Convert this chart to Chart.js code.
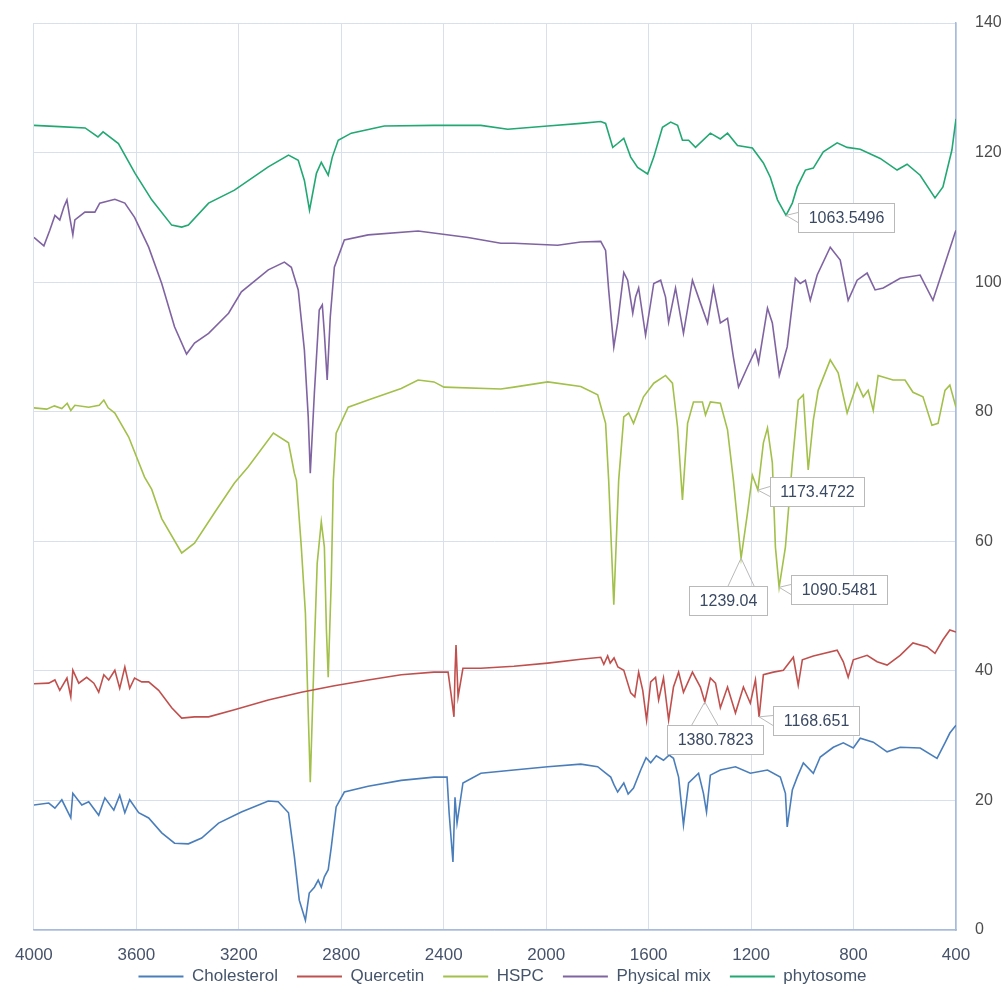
<!DOCTYPE html>
<html>
<head>
<meta charset="utf-8">
<title>FTIR spectra</title>
<script src="https://cdn.jsdelivr.net/npm/chart.js@4/dist/chart.umd.min.js"></script>
<style>
  html, body { margin: 0; padding: 0; background: #ffffff; }
</style>
</head>
<body>
<canvas id="canvas" width="1005" height="994"></canvas>
<script>
// wavenumber (cm-1) and %T
const seriesNames = ['Cholesterol', 'Quercetin', 'HSPC', 'Physical mix', 'phytosome'];
const seriesColors = ['#4a7ebb', '#c0504d', '#a2c04a', '#8064a2', '#22a873'];

const cholWn = [4000, 3942, 3918, 3891, 3856, 3848, 3813, 3786, 3747, 3723, 3688, 3665, 3645, 3626, 3591, 3552, 3501, 3451, 3397, 3345, 3279, 3190, 3085, 3046, 3006, 2983, 2964, 2940, 2925, 2905, 2890, 2878, 2866, 2851, 2839, 2820, 2788, 2695, 2566, 2438, 2387, 2379, 2364, 2356, 2348, 2325, 2255, 2126, 1994, 1865, 1799, 1770, 1748, 1735, 1721, 1697, 1680, 1659, 1631, 1610, 1592, 1570, 1542, 1520, 1503, 1483, 1464, 1444, 1405, 1386, 1374, 1359, 1320, 1261, 1203, 1136, 1086, 1066, 1059, 1039, 1020, 996, 957, 930, 879, 840, 801, 774, 723, 669, 618, 540, 474, 443, 424, 400];
const cholT  = [19.3, 19.6, 18.8, 20.1, 17.3, 21.1, 19.3, 19.8, 17.7, 20.4, 18.5, 20.8, 18.1, 20.1, 18.1, 17.3, 15.0, 13.4, 13.3, 14.2, 16.5, 18.2, 19.9, 19.8, 18.1, 11.3, 4.6, 1.5, 5.7, 6.6, 7.7, 6.6, 8.2, 9.3, 12.8, 19.0, 21.3, 22.2, 23.1, 23.6, 23.6, 18.1, 10.5, 20.5, 16.5, 22.7, 24.2, 24.7, 25.2, 25.6, 25.2, 24.3, 23.6, 22.4, 21.3, 22.7, 21.0, 21.9, 24.7, 26.6, 25.8, 26.9, 26.2, 27.0, 26.5, 23.6, 16.2, 22.7, 24.2, 21.1, 18.2, 23.9, 24.7, 25.2, 24.2, 24.7, 23.6, 21.1, 15.9, 21.6, 23.6, 25.8, 24.2, 26.7, 28.2, 28.9, 28.1, 29.6, 29.0, 27.5, 28.2, 28.1, 26.5, 28.9, 30.4, 31.6];

const querWn = [4000, 3942, 3918, 3899, 3871, 3856, 3848, 3825, 3794, 3766, 3747, 3727, 3708, 3684, 3665, 3645, 3626, 3607, 3579, 3552, 3513, 3462, 3423, 3373, 3318, 3217, 3085, 2956, 2827, 2695, 2566, 2438, 2383, 2372, 2360, 2356, 2352, 2344, 2325, 2255, 2126, 1994, 1865, 1787, 1775, 1760, 1750, 1735, 1720, 1697, 1670, 1654, 1639, 1623, 1608, 1592, 1573, 1561, 1542, 1522, 1503, 1483, 1464, 1429, 1398, 1380.7823, 1359, 1339, 1320, 1292, 1261, 1230, 1203, 1183, 1168.651, 1152, 1113, 1074, 1035, 1016, 1000, 957, 864, 840, 821, 801, 747, 708, 669, 618, 568, 513, 482, 451, 424, 400];
const querT  = [38.0, 38.1, 38.6, 37.0, 38.9, 36.0, 40.1, 38.1, 39.0, 38.1, 36.7, 39.4, 38.6, 40.1, 37.3, 40.6, 37.3, 38.9, 38.3, 38.3, 37.0, 34.3, 32.7, 32.9, 32.9, 34.0, 35.5, 36.7, 37.7, 38.6, 39.4, 39.8, 39.8, 36.6, 32.9, 39.7, 44.0, 36.0, 40.4, 40.4, 40.7, 41.2, 41.8, 42.1, 41.0, 42.3, 41.2, 42.0, 40.6, 40.1, 36.6, 36.0, 39.8, 37.0, 32.4, 38.3, 39.0, 35.5, 38.9, 32.4, 37.5, 39.8, 36.7, 39.8, 37.5, 35.2, 38.9, 38.1, 34.3, 37.5, 33.5, 37.5, 35.0, 38.6, 32.9, 39.4, 39.8, 40.1, 42.1, 37.8, 41.7, 42.3, 43.2, 41.4, 39.0, 41.7, 42.4, 41.4, 40.9, 42.4, 44.3, 43.7, 42.7, 44.8, 46.3, 46.0];

const hspcWn = [4000, 3950, 3920, 3891, 3870, 3856, 3840, 3786, 3745, 3727, 3710, 3684, 3630, 3568, 3540, 3501, 3423, 3373, 3295, 3217, 3163, 3065, 3006, 2983, 2975, 2956, 2940, 2929, 2921, 2905, 2894, 2878, 2866, 2858, 2851, 2839, 2831, 2820, 2773, 2695, 2566, 2500, 2438, 2399, 2177, 2126, 1994, 1865, 1799, 1768, 1756, 1736, 1717, 1697, 1678, 1659, 1620, 1580, 1534, 1507, 1487, 1468, 1448, 1425, 1390, 1378, 1359, 1320, 1292, 1269, 1239.04, 1214, 1195, 1173.4722, 1152, 1136, 1117, 1105, 1090.5481, 1066, 1039, 1016, 996, 977, 957, 938, 891, 860, 825, 786, 762, 743, 723, 704, 646, 599, 568, 529, 494, 470, 443, 424, 400];
const hspcT  = [80.6, 80.4, 80.9, 80.5, 81.3, 80.2, 81.0, 80.7, 81.0, 81.8, 80.6, 79.8, 76.1, 69.9, 68.0, 63.5, 58.2, 59.7, 64.4, 69.0, 71.5, 76.7, 75.2, 70.5, 69.4, 59.1, 48.9, 33.5, 22.8, 43.7, 56.6, 63.0, 59.1, 46.3, 39.0, 54.0, 69.4, 76.7, 80.7, 81.8, 83.6, 84.9, 84.6, 83.8, 83.5, 83.8, 84.6, 83.9, 82.6, 78.2, 69.4, 50.2, 69.4, 79.2, 79.8, 78.2, 82.3, 84.4, 85.6, 84.4, 77.6, 66.4, 78.2, 81.5, 81.5, 79.5, 81.5, 81.3, 77.2, 69.4, 57.4, 64.4, 70.2, 67.9, 75.2, 77.5, 72.1, 59.1, 52.9, 59.1, 72.1, 81.8, 82.6, 71.0, 78.7, 83.3, 88.0, 86.0, 79.8, 84.4, 82.3, 83.3, 80.2, 85.6, 84.9, 84.9, 83.0, 82.3, 77.9, 78.2, 83.3, 84.1, 80.7];

const mixWn = [4000, 3961, 3938, 3918, 3899, 3883, 3871, 3860, 3848, 3840, 3801, 3762, 3743, 3684, 3645, 3607, 3552, 3501, 3451, 3404, 3373, 3318, 3240, 3190, 3085, 3022, 2995, 2968, 2944, 2929, 2921, 2905, 2886, 2874, 2866, 2855, 2843, 2827, 2788, 2695, 2500, 2305, 2177, 2126, 1955, 1865, 1787, 1768, 1756, 1736, 1721, 1697, 1682, 1662, 1651, 1639, 1612, 1580, 1553, 1534, 1522, 1495, 1464, 1429, 1398, 1370, 1347, 1320, 1292, 1269, 1249, 1214, 1183, 1171, 1136, 1117, 1090, 1059, 1027, 1008, 988, 969, 942, 891, 852, 821, 786, 747, 716, 684, 618, 540, 490, 451, 404, 400];
const mixT  = [106.9, 105.6, 108.0, 110.3, 109.6, 111.6, 112.7, 110.0, 107.3, 109.6, 110.8, 110.8, 112.2, 112.8, 112.2, 110.0, 105.4, 99.8, 93.1, 88.9, 90.6, 92.1, 95.2, 98.5, 101.9, 103.1, 102.3, 98.8, 89.5, 79.2, 70.5, 82.9, 95.7, 96.5, 92.1, 84.9, 94.6, 102.3, 106.5, 107.3, 107.9, 106.9, 106.0, 106.0, 105.7, 106.2, 106.3, 104.9, 98.8, 90.0, 93.7, 101.5, 100.3, 95.2, 97.7, 99.1, 91.8, 99.8, 100.3, 97.7, 93.8, 99.1, 92.1, 100.3, 96.8, 93.7, 99.2, 93.7, 94.4, 88.4, 83.8, 86.9, 89.5, 87.5, 96.0, 93.7, 85.6, 90.0, 100.6, 99.8, 100.3, 97.2, 101.1, 105.4, 103.4, 97.2, 100.3, 101.4, 98.8, 99.1, 100.6, 101.1, 97.2, 101.9, 107.6, 108.0];

const phytoWn = [4000, 3900, 3800, 3750, 3730, 3670, 3605, 3540, 3462, 3423, 3397, 3318, 3217, 3085, 3006, 2968, 2944, 2924, 2897, 2878, 2851, 2835, 2812, 2761, 2632, 2438, 2255, 2150, 1994, 1865, 1787, 1768, 1740, 1721, 1697, 1670, 1643, 1604, 1580, 1546, 1514, 1487, 1468, 1444, 1417, 1359, 1320, 1292, 1253, 1195, 1152, 1125, 1097, 1063.5496, 1039, 1020, 988, 957, 918, 864, 825, 774, 696, 630, 591, 540, 482, 451, 416, 400];
const phytoT  = [124.2, 124.0, 123.8, 122.4, 123.2, 121.4, 116.8, 112.7, 108.8, 108.5, 108.8, 112.2, 114.2, 117.8, 119.6, 118.8, 115.7, 111.1, 116.8, 118.5, 116.5, 119.3, 121.9, 123.0, 124.1, 124.2, 124.2, 123.6, 124.1, 124.5, 124.8, 124.5, 120.8, 121.4, 122.2, 119.3, 117.7, 116.7, 119.3, 123.9, 124.7, 124.2, 121.9, 121.9, 120.8, 123.0, 122.1, 123.0, 121.1, 120.7, 118.4, 116.2, 112.7, 110.3, 112.2, 114.7, 117.3, 117.6, 120.1, 121.5, 120.8, 120.5, 119.1, 117.3, 118.2, 116.5, 113.0, 114.7, 120.4, 125.2];

const xTicks = [4000, 3600, 3200, 2800, 2400, 2000, 1600, 1200, 800, 400];
const yTicks = [0, 20, 40, 60, 80, 100, 120, 140];

const seriesWn = [cholWn, querWn, hspcWn, mixWn, phytoWn];
const seriesT = [cholT, querT, hspcT, mixT, phytoT];

// peak labels: which series, which wavenumber, where the box goes
const callouts = [
  { series: 4, wn: 1063.5496, side: 'right', dx: 12, dy: 2 },
  { series: 2, wn: 1173.4722, side: 'right', dx: 12, dy: 1 },
  { series: 2, wn: 1239.04, side: 'below', dx: -13, dy: 28 },
  { series: 2, wn: 1090.5481, side: 'right', dx: 12, dy: 2 },
  { series: 1, wn: 1380.7823, side: 'below', dx: 10, dy: 23 },
  { series: 1, wn: 1168.651, side: 'right', dx: 14, dy: 4 }
];

const calloutPlugin = {
  id: 'callouts',
  afterDatasetsDraw(chart) {
    const ctx = chart.ctx;
    ctx.save();
    ctx.font = '16px "Liberation Sans", Arial, sans-serif';
    callouts.forEach(function(c) {
      const i = seriesWn[c.series].indexOf(c.wn);
      const px = chart.scales.x.getPixelForValue(c.wn);
      const py = chart.scales.y.getPixelForValue(seriesT[c.series][i]);
      const text = String(c.wn);
      const w = Math.round(ctx.measureText(text).width + 20);
      const h = 29;
      let bx, by, a, b;
      if (c.side === 'right') {
        bx = Math.round(px + c.dx);
        by = Math.round(py + c.dy - h / 2);
        a = [bx, by + h / 2 - 5];
        b = [bx, by + h / 2 + 5];
      } else {
        bx = Math.round(px + c.dx - w / 2);
        by = Math.round(py + c.dy);
        a = [px - 13, by];
        b = [px + 13, by];
      }
      ctx.strokeStyle = '#b9b9b9';
      ctx.lineWidth = 1;
      ctx.beginPath();
      ctx.moveTo(a[0], a[1]);
      ctx.lineTo(px, py);
      ctx.lineTo(b[0], b[1]);
      ctx.stroke();
      ctx.fillStyle = '#ffffff';
      ctx.fillRect(bx, by, w, h);
      ctx.strokeRect(bx + 0.5, by + 0.5, w, h);
      ctx.fillStyle = '#3b4a63';
      ctx.textAlign = 'center';
      ctx.textBaseline = 'middle';
      ctx.fillText(text, bx + w / 2 + 0.5, by + h / 2 + 1);
    });
    ctx.restore();
  }
};

// legend sits right under the tick labels and is centred on the whole canvas
const legendPlace = {
  id: 'legendPlace',
  afterLayout(chart) {
    const l = chart.legend;
    l.left = 0;
    l.right = chart.width;
    l.width = chart.width;
    l.top = 949;
    l.bottom = chart.height;
    l.height = chart.height - 949;
  }
};

const datasets = seriesNames.map(function(name, k) {
  return {
    label: name,
    data: seriesWn[k].map(function(wn, i) { return { x: wn, y: seriesT[k][i] }; }),
    borderColor: seriesColors[k],
    backgroundColor: seriesColors[k],
    borderWidth: 1.6,
    pointRadius: 0,
    tension: 0
  };
});

const ctx = document.getElementById('canvas');

new Chart(ctx, {
  type: 'line',
  data: { datasets: datasets },
  plugins: [calloutPlugin, legendPlace],
  options: {
    responsive: false,
    animation: false,
    layout: { padding: { left: 32, top: 23, right: 0, bottom: 0 } },
    plugins: {
      tooltip: { enabled: false },
      legend: {
        position: 'bottom',
        maxHeight: 30,
        labels: {
          boxWidth: 45,
          boxHeight: 2,
          padding: 19,
          color: '#44546a',
          font: { family: '"Liberation Sans", Arial, sans-serif', size: 17 },
          generateLabels: function(chart) {
            return Chart.defaults.plugins.legend.labels.generateLabels(chart).map(function(l) {
              l.lineWidth = 0;
              return l;
            });
          }
        }
      }
    },
    scales: {
      x: {
        type: 'linear',
        reverse: true,
        min: 400,
        max: 4000,
        afterBuildTicks: function(scale) { scale.ticks = xTicks.map(function(v) { return { value: v }; }); },
        ticks: {
          padding: 15,
          maxRotation: 0,
          autoSkip: false,
          color: '#46536a',
          font: { family: '"Liberation Sans", Arial, sans-serif', size: 17 },
          callback: function(v) { return v; }
        },
        grid: { color: '#d8e0ee', lineWidth: 1, drawTicks: false },
        border: { color: '#a7bbdb', width: 1.5 },
        afterFit: function(scale) { scale.height = 34; }
      },
      y: {
        position: 'right',
        min: 0,
        max: 140,
        afterBuildTicks: function(scale) { scale.ticks = yTicks.map(function(v) { return { value: v }; }); },
        ticks: {
          padding: 19,
          color: '#4d4d4d',
          font: { family: '"Liberation Sans", Arial, sans-serif', size: 16 },
          callback: function(v) { return v; }
        },
        grid: { color: '#d8e0ee', lineWidth: 1, drawTicks: false },
        border: { color: '#a7bbdb', width: 1.5 },
        afterFit: function(scale) {
          scale.width = 49;
          scale.paddingTop = 0;
          scale.paddingBottom = 0;
        }
      }
    }
  }
});
</script>
</body>
</html>
